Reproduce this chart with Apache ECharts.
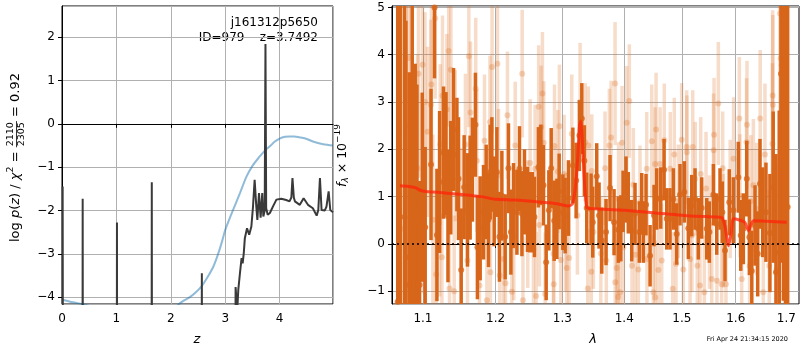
<!DOCTYPE html>
<html><head><meta charset="utf-8">
<script src="https://cdn.jsdelivr.net/npm/echarts@6/dist/echarts.min.js"></script>
<style>html,body{margin:0;padding:0;background:#fff}#c{width:800px;height:350px}</style>
</head><body><div id="c"></div><script>
// ---------- Left panel: redshift probability ----------
const chiZ = [0, 0.2, 0.4, 0.6, 1.0, 1.5, 2.0, 2.15, 2.35, 2.45, 2.56, 2.67, 2.78, 2.87, 2.94, 3.0, 3.07, 3.14, 3.27, 3.39, 3.5, 3.63, 3.72, 3.82, 3.9, 4.0, 4.1, 4.18, 4.27, 4.36, 4.5, 4.61, 4.8, 4.98];
const chiLog = [-4.06, -4.12, -4.17, -4.25, -4.5, -4.6, -4.4, -4.16, -4.0, -3.9, -3.76, -3.55, -3.3, -3.0, -2.72, -2.45, -2.22, -2.0, -1.6, -1.22, -0.97, -0.76, -0.63, -0.52, -0.42, -0.34, -0.3, -0.29, -0.29, -0.31, -0.35, -0.41, -0.47, -0.5];

const pzZ = [0.012, 0.02, 0.375, 0.38, 0.385, 1.005, 1.01, 1.015, 1.645, 1.65, 1.655, 2.565, 2.57, 2.575, 3.18, 3.19, 3.22, 3.24, 3.27, 3.30, 3.32, 3.34, 3.36, 3.40, 3.44, 3.48, 3.51, 3.54, 3.57, 3.59, 3.62, 3.65, 3.68, 3.70, 3.725, 3.739, 3.752, 3.78, 3.82, 3.88, 3.94, 4.03, 4.12, 4.18, 4.215, 4.235, 4.26, 4.28, 4.37, 4.44, 4.52, 4.61, 4.68, 4.71, 4.74, 4.77, 4.83, 4.86, 4.9, 4.93, 4.98];
const pzLog = [-1.45, -9, -9, -1.73, -9, -9, -2.28, -9, -9, -1.35, -9, -9, -3.45, -9, -9, -3.77, -4.3, -3.83, -3.45, -3.1, -3.22, -2.99, -2.64, -2.41, -2.56, -2.37, -1.91, -1.29, -1.9, -2.22, -1.6, -2.17, -1.6, -2.14, -2.0, 1.84, -1.95, -2.1, -2.06, -1.9, -1.75, -1.73, -1.76, -1.79, -1.7, -1.25, -1.7, -1.79, -1.87, -1.72, -1.87, -1.95, -2.12, -1.99, -1.25, -1.99, -2.0, -1.91, -1.56, -1.99, -2.04];

const zTicks = [0, 1, 2, 3, 4];
const titleLines = ['j161312p5650', 'ID=979    z=3.7492'];

// ---------- Right panel: spectrum ----------
const lamTicks = [1.1, 1.2, 1.3, 1.4, 1.5, 1.6, 1.7];
// [lambda, flux, error] dark beam
const darkObs = [
 [1.0673,-1.22,8],[1.0705,5.6,8],[1.0760,0.57,6],[1.0778,-0.28,5],[1.0821,-0.87,4.5],[1.0860,2.2,4],
 [1.0899,0.61,3.2],[1.0921,0.57,2.8],[1.0956,-0.87,2.2],[1.0991,1.2,2.0],[1.1030,0.35,1.7],[1.1107,1.68,1.6],
 [1.1154,5.0,1.5],[1.1186,0.19,1.4],[1.1222,1.31,1.5],[1.1275,1.93,1.4],[1.1308,1.91,1.3],[1.1335,0.59,1.4],
 [1.1373,1.4,1.2],[1.1411,2.42,1.3],[1.1457,1.89,1.2],[1.1479,1.38,1.3],[1.1516,-0.55,1.3],[1.1557,1.2,1.1],
 [1.1603,0.72,1.2],[1.1640,1.19,1.1],[1.1672,1.57,1.1],[1.1714,2.52,1.1],[1.1742,-0.07,1.1],[1.1781,0.33,1.1],
 [1.1828,0.67,1.0],[1.1866,1.1,1.0],[1.1899,0.51,1.0],[1.1923,1.52,1.0],[1.1947,1.68,1.0],[1.1980,0.9,0.95],
 [1.2019,1.52,0.95],[1.2056,0.15,0.95],[1.2091,1.02,0.95],[1.2139,0.15,0.9],[1.2187,1.6,0.95],[1.2222,0.25,0.9],
 [1.2261,0.81,0.9],[1.2311,0.67,0.9],[1.2349,1.59,0.9],[1.2385,0.64,0.9],[1.2423,1.1,0.9],[1.2468,0.73,0.9],
 [1.2497,0.67,0.85],[1.2542,0.67,0.85],[1.2572,0.57,0.85],[1.2632,1.62,0.85],[1.2669,1.67,0.85],[1.2709,1.24,0.85],
 [1.2750,-0.39,0.8],[1.2791,0.71,0.85],[1.2827,1.6,0.85],[1.2873,0.49,0.85],[1.2915,0.53,0.85],[1.2950,1.11,0.8],
 [1.3007,0.67,0.8],[1.3043,0.6,0.8],[1.3095,0.97,0.8],[1.3164,1.66,0.8],[1.3216,1.34,0.8],[1.3268,2.29,0.75],
 [1.3306,2.65,0.75],[1.3347,1.76,0.75],[1.3385,0.76,0.75],[1.3455,0.74,0.75],[1.3482,0.46,0.75],[1.3546,1.43,0.7],
 [1.3584,0.6,0.7],[1.3628,0.07,0.7],[1.3698,0.25,0.7],[1.3764,1.18,0.7],[1.3830,0.46,0.7],[1.3902,0.3,0.7],
 [1.3942,0.33,0.7],[1.3980,0.9,0.65],[1.4030,1.15,0.7],[1.4068,0.87,0.65],[1.4126,0.28,0.65],[1.4182,0.64,0.65],
 [1.4255,0.25,0.65],[1.4296,0.85,0.65],[1.4324,0.25,0.65],[1.4370,0.83,0.65],[1.4440,-0.25,0.65],[1.4509,0.6,0.65],
 [1.4556,0.95,0.65],[1.4626,0.97,0.65],[1.4684,1.57,0.65],[1.4731,0.53,0.65],[1.4789,0.53,0.65],[1.4848,0.95,0.65],
 [1.4908,0.21,0.65],[1.4967,1.04,0.65],[1.5045,1.1,0.65],[1.5117,0.33,0.65],[1.5179,0.81,0.65],[1.5239,0.95,0.65],
 [1.5299,0.32,0.65],[1.5361,0.76,0.65],[1.5454,0.32,0.65],[1.5502,0.25,0.65],[1.5577,1.04,0.65],[1.5640,0.42,0.65],
 [1.5702,0.95,0.65],[1.5745,0.67,0.65],[1.5796,-0.14,0.65],[1.5877,0.88,0.7],[1.5954,0.71,0.7],[1.6050,1.41,0.75],
 [1.6097,0.18,0.75],[1.6147,0.32,0.75],[1.6213,1.38,0.8],[1.6264,0.14,0.8],[1.6311,-0.57,0.85],[1.6374,0.39,0.85],
 [1.6427,-0.21,0.9],[1.6472,1.27,0.95],[1.6525,0.67,0.95],[1.6590,0.67,1.05],[1.6669,0.23,1.25],[1.6735,1.2,1.6],
 [1.6790,-0.6,2.5],[1.6856,-0.18,3],[1.6891,3.6,4],[1.6941,4.8,6],[1.6982,1.0,6],[1.7027,0.78,6]
];
// [lambda, flux, error] light beam
const lightObs = [
 [1.0747,0.32,6],[1.0782,2.5,6],[1.0812,3.93,3.2],[1.0843,0.04,3],[1.0847,3.09,2.8],[1.0912,-0.39,2.5],
 [1.0929,1.6,2.4],[1.0942,3.6,2.2],[1.0995,3.79,2.0],[1.1008,0.95,2.0],[1.1026,3.0,1.9],[1.1061,2.37,1.8],
 [1.1105,2.94,1.8],[1.1113,3.37,1.8],[1.1132,0.51,1.8],[1.1163,4.77,1.7],[1.1176,-0.64,1.7],[1.1221,0.59,1.7],
 [1.1230,2.1,1.7],[1.1253,-0.28,1.7],[1.1261,3.13,1.7],[1.1320,2.84,1.6],[1.1345,4.08,1.6],[1.1356,-0.94,1.6],
 [1.1375,3.68,1.6],[1.1420,-1.0,1.6],[1.1434,2.08,1.6],[1.1512,0.53,1.5],[1.1575,2.1,1.5],[1.1603,-0.35,1.5],
 [1.1622,3.97,1.5],[1.1645,2.78,1.5],[1.1718,3.28,1.5],[1.1734,1.76,1.5],[1.1771,-0.88,1.5],[1.1842,2.18,1.4],
 [1.1876,-1.19,1.4],[1.1920,2.58,1.4],[1.1926,-0.6,1.4],[1.1950,3.74,1.4],[1.2027,3.81,1.4],[1.2042,1.45,1.4],
 [1.2060,-0.67,1.4],[1.2114,-0.32,1.35],[1.2143,-0.83,1.35],[1.2172,2.72,1.35],[1.2237,-1.01,1.35],[1.2265,0.16,1.35],
 [1.2286,2.08,1.35],[1.2389,3.6,1.35],[1.2400,-1.19,1.35],[1.2472,0.42,1.35],[1.2507,1.71,1.35],[1.2557,-0.11,1.35],
 [1.2582,1.59,1.35],[1.2597,-1.1,1.35],[1.2636,2.9,1.3],[1.2647,0.4,1.3],[1.2673,2.47,1.3],[1.2693,3.18,1.3],
 [1.2713,2.14,1.3],[1.2735,-1.06,1.3],[1.2862,-0.21,1.3],[1.2866,-0.85,1.3],[1.2878,2.07,1.3],[1.2930,1.53,1.3],
 [1.2954,2.49,1.3],[1.2976,-0.34,1.3],[1.3027,1.48,1.25],[1.3047,0.25,1.25],[1.3069,-0.51,1.25],[1.3105,-0.3,1.25],
 [1.3147,2.33,1.25],[1.3236,0.6,1.25],[1.3279,3.0,1.25],[1.3360,2.15,1.25],[1.3401,-0.94,1.25],[1.3411,2.08,1.25],
 [1.3458,-0.59,1.2],[1.3466,1.54,1.2],[1.3492,0.25,1.2],[1.3612,-0.2,1.2],[1.3682,1.6,1.2],[1.3702,-0.35,1.2],
 [1.3753,2.08,1.2],[1.3781,2.25,1.2],[1.3847,3.39,1.3],[1.3850,-0.81,1.2],[1.3875,-0.51,1.2],[1.3898,-1.12,1.2],
 [1.3905,0.95,1.2],[1.3930,-1.02,1.2],[1.3963,2.14,1.2],[1.3985,-0.07,1.2],[1.4041,2.56,1.2],[1.4085,3.02,1.2],
 [1.4130,-0.46,1.2],[1.4153,1.25,1.2],[1.4186,-0.23,1.2],[1.4238,-0.54,1.2],[1.4267,0.88,1.2],[1.4382,1.59,1.2],
 [1.4386,-0.32,1.2],[1.4469,2.17,1.2],[1.4497,-1.02,1.2],[1.4526,1.69,1.2],[1.4530,-1.13,1.2],[1.4544,2.42,1.2],
 [1.4584,-0.55,1.2],[1.4614,1.69,1.2],[1.4643,-0.35,1.2],[1.4688,2.19,1.2],[1.4793,1.59,1.2],[1.4837,-0.95,1.2],
 [1.4865,1.89,1.2],[1.4896,-0.42,1.2],[1.4937,0.9,1.2],[1.4997,2.2,1.2],[1.5026,-0.54,1.2],[1.5087,2.05,1.2],
 [1.5091,1.94,1.2],[1.5148,-0.32,1.2],[1.5183,0.18,1.2],[1.5197,2.05,1.2],[1.5243,1.38,1.2],[1.5281,-0.46,1.2],
 [1.5330,-0.88,1.2],[1.5343,1.48,1.2],[1.5410,-1.02,1.2],[1.5441,1.17,1.2],[1.5506,0.25,1.2],[1.5547,-0.74,1.2],
 [1.5581,1.98,1.2],[1.5590,2.31,1.2],[1.5644,-0.78,1.2],[1.5670,2.97,1.3],[1.5733,-0.85,1.2],[1.5752,1.6,1.2],
 [1.5764,0.28,1.2],[1.5814,-0.85,1.25],[1.5894,0.95,1.25],[1.5958,1.8,1.3],[1.6069,2.65,1.3],[1.6082,1.02,1.3],
 [1.6115,-0.74,1.3],[1.6209,2.15,1.35],[1.6217,2.52,1.35],[1.6268,-0.46,1.35],[1.6291,0.9,1.4],[1.6342,1.24,1.4],
 [1.6408,0.74,1.4],[1.6476,2.65,1.45],[1.6537,-1.02,1.5],[1.6570,1.89,1.5],[1.6655,-0.46,1.6],[1.6719,2.12,1.7],
 [1.6723,3.14,1.8],[1.6727,2.94,1.9],[1.6804,-0.53,2.2],[1.6870,4.87,3],[1.6884,3.92,3],[1.6904,3.78,3],
 [1.6992,3.9,4],[1.6996,-0.53,4]
];
const modelLam = [1.070, 1.080, 1.090, 1.097, 1.104, 1.12, 1.132, 1.15, 1.168, 1.18, 1.197, 1.22, 1.239, 1.26, 1.2915, 1.3095, 1.316, 1.320, 1.324, 1.327, 1.329, 1.331, 1.334, 1.337, 1.339, 1.344, 1.40, 1.45, 1.5148, 1.564, 1.574, 1.580, 1.586, 1.591, 1.5954, 1.608, 1.618, 1.6245, 1.634, 1.66, 1.7008];
const modelFlux = [1.23, 1.22, 1.19, 1.13, 1.11, 1.09, 1.07, 1.05, 1.02, 1.0, 0.95, 0.93, 0.92, 0.89, 0.85, 0.8, 0.85, 1.15, 1.8, 2.5, 2.6, 2.3, 1.5, 0.9, 0.76, 0.75, 0.71, 0.66, 0.59, 0.57, 0.55, 0.35, -0.04, 0.2, 0.53, 0.5, 0.45, 0.28, 0.49, 0.48, 0.46];
const stampText = 'Fri Apr 24 21:34:15 2020';

// ---------- build ----------
const FONT = 'DejaVu Sans';
const minusFmt = v => (v < 0 ? '\u2212' : '') + Math.abs(v);
const DARK = '#d8661a';
const LIGHT_BAR = 'rgba(222,110,30,0.24)';
const LIGHT_PT = 'rgba(222,110,30,0.34)';

const mc = document.createElement('canvas').getContext('2d');
function tw(t, size, style) { mc.font = (style ? style + ' ' : '') + size + 'px "' + FONT + '"'; return mc.measureText(t).width; }

function errRender(color, w) {
  return function (params, api) {
    const cs = params.coordSys;
    const x = api.value(0), y = api.value(1), e = api.value(2);
    const top = api.coord([x, y + e]);
    const bot = api.coord([x, y - e]);
    const y1 = Math.max(top[1], cs.y), y2 = Math.min(bot[1], cs.y + cs.height);
    if (y2 <= y1) return null;
    return { type: 'rect', shape: { x: top[0] - w / 2, y: y1, width: w, height: y2 - y1 }, style: { fill: color } };
  };
}

function rotLabel(gx, gy, pieces) {
  let cur = 0; const kids = [];
  pieces.forEach(p => {
    if (p.frac) {
      const w = Math.max(tw(p.frac[0], p.size), tw(p.frac[1], p.size)) + 2;
      kids.push({ type: 'text', x: cur + w / 2, y: -5.5, style: { text: p.frac[0], font: p.size + 'px "' + FONT + '"', fill: '#000', align: 'center', verticalAlign: 'middle' } });
      kids.push({ type: 'text', x: cur + w / 2, y: 6, style: { text: p.frac[1], font: p.size + 'px "' + FONT + '"', fill: '#000', align: 'center', verticalAlign: 'middle' } });
      kids.push({ type: 'line', shape: { x1: cur, y1: 0.5, x2: cur + w, y2: 0.5 }, style: { stroke: '#000', lineWidth: 0.8 } });
      cur += w;
    } else {
      kids.push({ type: 'text', x: cur, y: p.dy || 0, style: { text: p.t, font: (p.it ? 'italic ' : '') + p.size + 'px "' + FONT + '"', fill: '#000', align: 'left', verticalAlign: 'middle' } });
      cur += tw(p.t, p.size, p.it ? 'italic' : '');
    }
  });
  return { type: 'group', x: gx, y: gy, rotation: Math.PI / 2, children: kids };
}

const axisCommon = {
  axisLine: { show: true, lineStyle: { color: '#000', width: 1 } },
  axisTick: { show: true, length: 4, lineStyle: { color: '#000', width: 1 } },
  axisLabel: { color: '#000', fontSize: 12, fontFamily: FONT },
  splitLine: { show: true, lineStyle: { color: '#b0b0b0', width: 1 } }
};
function ax(extra) {
  const o = JSON.parse(JSON.stringify(axisCommon));
  for (const k in extra) {
    if (typeof extra[k] === 'object' && o[k] && !Array.isArray(extra[k])) Object.assign(o[k], extra[k]);
    else o[k] = extra[k];
  }
  return o;
}

const lnTicks = lamTicks.map(Math.log);

const option = {
  animation: false,
  backgroundColor: '#fff',
  grid: [
    { left: 62, top: 6, width: 271, height: 298, show: true, borderColor: '#000', borderWidth: 1, backgroundColor: 'transparent' },
    { left: 392, top: 6, width: 407, height: 298, show: true, borderColor: '#000', borderWidth: 1, backgroundColor: 'transparent' }
  ],
  xAxis: [
    ax({ type: 'value', gridIndex: 0, min: 0, max: 4.98, interval: 1,
      axisLabel: { margin: 9, showMaxLabel: false, formatter: v => zTicks.includes(v) ? String(v) : '' } }),
    ax({ type: 'value', gridIndex: 1, min: Math.log(1.06), max: Math.log(1.726),
      axisTick: { customValues: lnTicks },
      axisLabel: { margin: 9, customValues: lnTicks, formatter: v => Math.exp(v).toFixed(1) } })
  ],
  yAxis: [
    ax({ type: 'value', gridIndex: 0, min: -4.16, max: 2.72, splitNumber: 5,
      axisLabel: { margin: 7, showMinLabel: false, showMaxLabel: false, formatter: minusFmt } }),
    ax({ type: 'value', gridIndex: 1, min: -1.27, max: 5.03, splitNumber: 5,
      axisLabel: { margin: 7, showMinLabel: false, showMaxLabel: false, formatter: minusFmt } })
  ],
  series: [
    { type: 'line', xAxisIndex: 0, yAxisIndex: 0, symbol: 'none', smooth: 0.3, clip: true,
      data: chiZ.map((z, i) => [z, chiLog[i]]),
      lineStyle: { color: 'rgba(31,119,180,0.5)', width: 2 }, z: 2 },
    { type: 'line', xAxisIndex: 0, yAxisIndex: 0, symbol: 'none', clip: true,
      data: pzZ.map((z, i) => [z, pzLog[i]]),
      lineStyle: { color: '#3a3a3a', width: 2 }, z: 3 },
    { type: 'custom', xAxisIndex: 1, yAxisIndex: 1, renderItem: errRender(LIGHT_BAR, 3.5),
      data: lightObs.map(r => [Math.log(r[0]), r[1], r[2]]), encode: { x: 0, y: 1 }, z: 2 },
    { type: 'scatter', xAxisIndex: 1, yAxisIndex: 1, symbolSize: 6,
      data: lightObs.map(r => [Math.log(r[0]), r[1]]), itemStyle: { color: LIGHT_PT }, z: 3 },
    { type: 'custom', xAxisIndex: 1, yAxisIndex: 1, renderItem: errRender(DARK, 3.5),
      data: darkObs.map(r => [Math.log(r[0]), r[1], r[2]]), encode: { x: 0, y: 1 }, z: 4 },
    { type: 'scatter', xAxisIndex: 1, yAxisIndex: 1, symbolSize: 6,
      data: darkObs.map(r => [Math.log(r[0]), r[1]]), itemStyle: { color: DARK }, z: 5 },
    { type: 'line', xAxisIndex: 1, yAxisIndex: 1, symbol: 'none', smooth: 0.2,
      data: modelLam.map((l, i) => [Math.log(l), modelFlux[i]]),
      lineStyle: { color: 'rgba(255,35,10,0.75)', width: 3 }, z: 6,
      markLine: { silent: true, symbol: 'none', label: { show: false },
        lineStyle: { color: '#000', type: [2, 3], width: 1.6 }, data: [{ yAxis: 0 }] } }
  ],
  graphic: [
    { type: 'text', right: 800 - 318, top: 17, style: { text: titleLines[0], font: '12px "' + FONT + '"', fill: '#000' } },
    { type: 'text', right: 800 - 318, top: 32, style: { text: titleLines[1], font: '12px "' + FONT + '"', fill: '#000' } },
    { type: 'text', x: 197, y: 340, style: { text: 'z', font: 'italic 13px "' + FONT + '"', fill: '#000', align: 'center', verticalAlign: 'middle' } },
    { type: 'text', x: 593, y: 340, style: { text: '\u03bb', font: 'italic 13px "' + FONT + '"', fill: '#000', align: 'center', verticalAlign: 'middle' } },
    { type: 'text', x: 788, y: 339, style: { text: stampText, font: '6.5px "' + FONT + '"', fill: '#000', align: 'right', verticalAlign: 'middle' } },
    rotLabel(16, 242, [
      { t: 'log ', size: 13 }, { t: 'p', size: 13, it: true }, { t: '(', size: 13 }, { t: 'z', size: 13, it: true },
      { t: ') / ', size: 13 }, { t: '\u03c7', size: 13, it: true }, { t: '2', size: 9.5, dy: -5.5 }, { t: ' = ', size: 13 },
      { frac: ['2110', '2305'], size: 9.5 }, { t: ' = 0.92', size: 13 }
    ]),
    rotLabel(343, 187, [
      { t: 'f', size: 12.5, it: true }, { t: '\u03bb', size: 9, it: true, dy: 3 }, { t: ' \u00d7 10', size: 12.5 }, { t: '\u221219', size: 9, dy: -5 }
    ])
  ]
};

const chart = echarts.init(document.getElementById('c'), null, { renderer: 'canvas' });
chart.setOption(option);
</script></body></html>
